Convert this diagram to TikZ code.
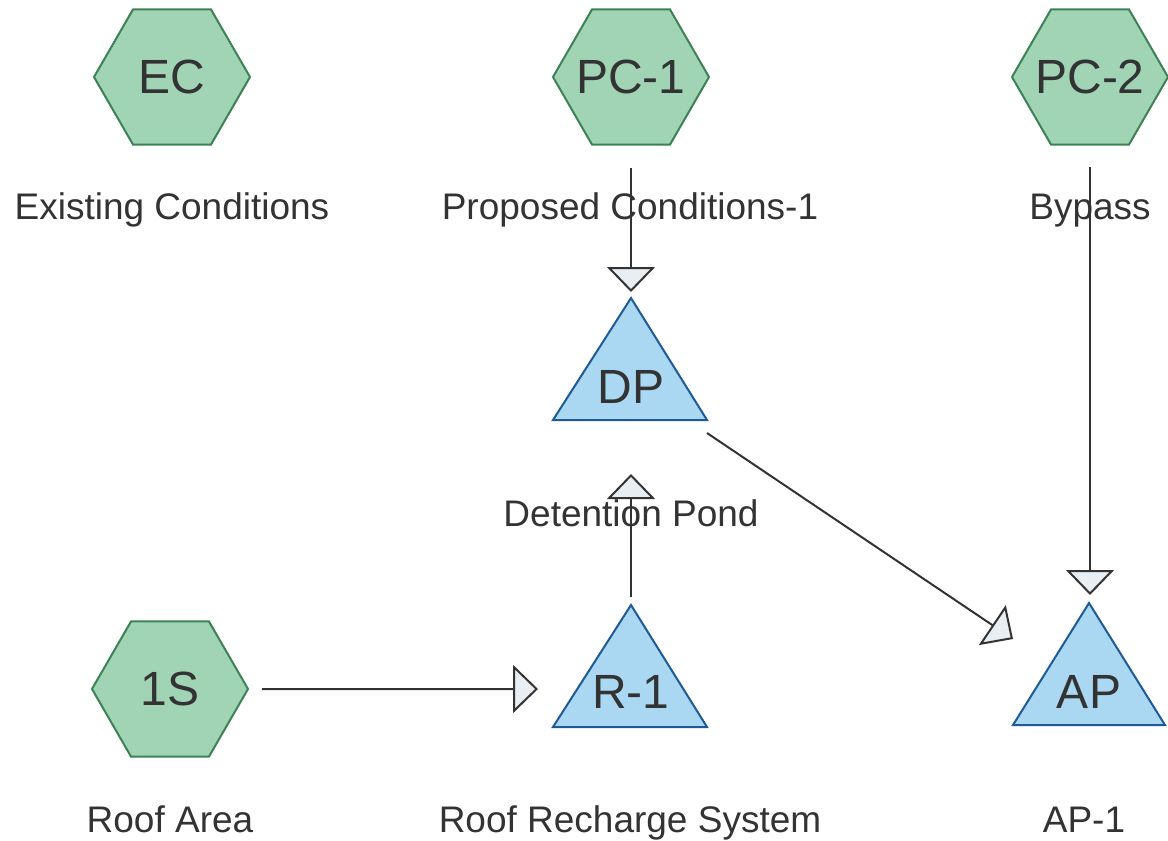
\documentclass[tikz,border=0pt]{standalone}
\usepackage{fontspec}
\setmainfont{Liberation Sans}
\usetikzlibrary{shapes.geometric,arrows.meta}
\definecolor{hexfill}{RGB}{160,212,180}
\definecolor{hexline}{RGB}{60,130,85}
\definecolor{trifill}{RGB}{170,216,242}
\definecolor{triline}{RGB}{30,90,150}
\definecolor{ink}{RGB}{51,51,51}
\definecolor{tipfill}{RGB}{232,238,242}
\newcommand\hxt[1]{\makebox[0pt]{#1}}
\begin{document}
\begin{tikzpicture}[x=1pt,y=-1pt,
  hexnode/.style={regular polygon, regular polygon sides=6, minimum size=156pt,
    inner sep=0pt, outer sep=0pt, fill=hexfill, draw=hexline, line width=2pt,
    text=ink, font=\fontsize{48}{48}\selectfont},
  trishape/.style={fill=trifill, draw=triline, line width=2pt, line join=miter},
  tritext/.style={inner sep=0pt, text=ink, font=\fontsize{48}{48}\selectfont},
  lbl/.style={inner sep=0pt, anchor=base, text=ink, font=\fontsize{37}{37}\selectfont},
  flow/.style={draw=ink, line width=2pt,
    -{Triangle[length=25pt,width=48pt,fill=tipfill]}}
]
\useasboundingbox (0,0) rectangle (1168,841);

% hexagons
\node[hexnode] (EC) at (172,77) {\hxt{EC}};
\node[hexnode] (PC1) at (631,77) {\hxt{PC-1}};
\node[hexnode] (PC2) at (1090,77) {\hxt{PC-2}};
\node[hexnode] (S1) at (170,689) {\hxt{1S}};

% triangles
\draw[trishape] (631,298) -- (553,420) -- (707,420) -- cycle;
\node[tritext] (DP) at (631,387) {DP};
\draw[trishape] (631,605) -- (553,727) -- (707,727) -- cycle;
\node[tritext] (R1) at (631,692) {R-1};
\draw[trishape] (1089,603) -- (1013,725) -- (1165,725) -- cycle;
\node[tritext] (AP) at (1089,692) {AP};

% labels
\node[lbl] (ECl) at (172,219) {Existing Conditions};
\node[lbl] (PC1l) at (630,219) {Proposed Conditions-1};
\node[lbl] (PC2l) at (1090,219) {Bypass};
\node[lbl] (DPl) at (631,526) {Detention Pond};
\node[lbl] (S1l) at (170,832) {Roof Area};
\node[lbl] (R1l) at (630,832) {Roof Recharge System};
\node[lbl] (APl) at (1084,832) {AP-1};

% connector ends
\coordinate (DPin) at (631,292);
\coordinate (APin) at (1090,595);
\coordinate (R1in) at (538,689);
\coordinate (R1apex) at (631,605);
\coordinate (DPbelow) at (631,474);
\coordinate (DPout) at (707,433);
\coordinate (APside) at (1013,639);

% connectors
\draw[flow, shorten <=23pt] (PC1.south) -- (DPin);
\draw[flow, shorten <=22pt] (PC2.south) -- (APin);
\draw[flow, shorten <=14pt] (S1.east) -- (R1in);
\draw[flow, shorten <=8pt] (R1apex) -- (DPbelow);
\draw[flow] (DPout) -- (APside);
\end{tikzpicture}
\end{document}
